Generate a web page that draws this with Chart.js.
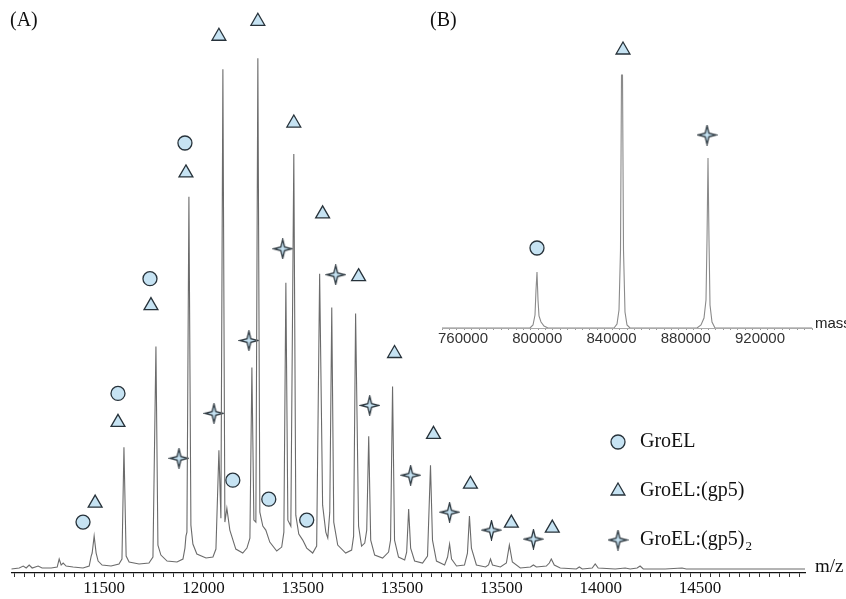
<!DOCTYPE html>
<html>
<head>
<meta charset="utf-8">
<script src="https://cdn.jsdelivr.net/npm/chart.js@4.4.1/dist/chart.umd.min.js"></script>
<style>
  html, body { margin: 0; padding: 0; background: #fff; }
  #wrap { position: relative; width: 846px; height: 599px; }
  #main { position: absolute; left: 0; top: 0; }
  #inset { position: absolute; left: 420px; top: 0; }
</style>
</head>
<body>
<div id="wrap">
  <canvas id="main" width="846" height="599"></canvas>
  <canvas id="inset" width="426" height="360"></canvas>
</div>
<script>
// ---------- Panel A: m/z spectrum ----------
const spectrumMz = [11033,11073,11093,11108,11123,11138,11168,11188,11234,11264,11274,11284,11294,11309,11344,11394,11425,11435,11440,11450,11460,11470,11490,11535,11575,11590,11600,11611,11626,11676,11726,11746,11761,11771,11786,11817,11867,11897,11907,11912,11917,11927,11937,11947,11967,12013,12048,12063,12078,12088,12098,12108,12118,12133,12163,12198,12219,12234,12244,12254,12264,12274,12284,12299,12314,12334,12369,12394,12405,12415,12425,12440,12455,12465,12480,12500,12520,12550,12570,12585,12600,12616,12626,12636,12646,12656,12676,12716,12746,12756,12766,12781,12796,12812,12822,12832,12842,12862,12902,12932,12942,12952,12962,12982,13013,13023,13033,13043,13063,13103,13128,13143,13153,13173,13214,13229,13239,13249,13274,13314,13329,13339,13349,13374,13420,13435,13445,13455,13495,13525,13540,13555,13595,13646,13661,13676,13726,13741,13751,13766,13796,13877,13892,13907,13957,13972,13987,14073,14123,14148,14183,14198,14214,14324,14409,14430,14600,14801,15028];
const spectrumIntensity = [4,5,7,5,8,5,7,5,5,6,14,8,10,7,6,5,7,17,20,37,20,12,8,7,9,14,126,17,11,9,10,16,227,28,18,12,11,14,25,37,41,377,48,29,19,15,16,24,123,55,505,51,65,43,24,20,25,35,206,53,51,516,61,47,43,31,22,26,41,291,53,47,420,58,39,33,25,20,27,300,68,41,35,61,266,51,28,20,23,37,260,47,27,30,43,137,33,18,15,21,33,187,33,16,13,21,64,25,12,10,17,108,33,12,8,16,29,14,7,8,20,57,25,8,6,8,14,8,6,10,28,11,5,6,8,6,7,10,14,8,5,4,6,4,5,9,5,4,5,4,5,7,4,4,5,4,4,4,4];

// marker positions (label symbols placed above the peaks)
const groelMz  = [11394,11570,11731,11907,12148,12329,12520];
const groelY   = [51,180,295,431,93,74,53];
const gp5Mz    = [11455,11570,11736,11912,12078,12274,12455,12600,12781,12962,13158,13344,13550,13756];
const gp5Y     = [70,151,268,401,538,553,451,360,297,220,139,89,50,45];
const gp5x2Mz  = [11877,12053,12229,12399,12666,12837,13043,13239,13450,13661];
const gp5x2Y   = [115,160,233,325,299,168,98,61,43,34];

const tickValues = [11500,12000,12500,13000,13500,14000,14500];
const tickLabels = ['11500','12000','13500','13500','13500','14000','14500'];

// ---------- Panel B: deconvoluted mass ----------
const massX = [748687,796093,797709,798786,799325,799864,800403,800941,802019,803635,805790,841344,842960,844037,844845,845384,845923,846462,847269,848347,849963,886056,888211,889827,890904,891443,891982,892520,893059,894136,895752,948006];
const massY = [0,0,3,13,38,56,28,12,6,2,0,0,4,18,78,253,253,78,16,3,0,0,3,10,28,88,170,88,23,6,0,0];
const insetGroelX = [799864], insetGroelY = [80];
const insetGp5X = [846193],  insetGp5Y = [278];
const insetGp5x2X = [891443], insetGp5x2Y = [193];
const insetTickValues = [760000,800000,840000,880000,920000];
const insetTickLabels = ['760000','800000','840000','880000','920000'];

const seriesNames = ['GroEL', 'GroEL:(gp5)', 'GroEL:(gp5)'];

const FILL = '#c6e3f3', EDGE = '#27323a';
const SERIF = '"Liberation Serif", "DejaVu Serif", serif';
const SANS = '"Liberation Sans", Arial, sans-serif';

function makeStar(size) {
  const c = document.createElement('canvas');
  c.width = c.height = size;
  const g = c.getContext('2d');
  const m = size / 2, r = size / 2 - 1.2, k = r * 0.2;
  g.beginPath();
  g.moveTo(m, m - r);
  g.lineTo(m + k, m - k);
  g.lineTo(m + r, m);
  g.lineTo(m + k, m + k);
  g.lineTo(m, m + r);
  g.lineTo(m - k, m + k);
  g.lineTo(m - r, m);
  g.lineTo(m - k, m - k);
  g.closePath();
  g.fillStyle = FILL; g.fill();
  g.lineWidth = 1.3; g.strokeStyle = EDGE; g.lineJoin = 'miter'; g.stroke();
  return c;
}
const starImg = makeStar(21);

function pts(xs, ys) { return xs.map((x, i) => ({ x: x, y: ys[i] })); }
function markerSet(xs, ys, style, radius) {
  return {
    type: 'scatter', data: pts(xs, ys), pointStyle: style, pointRadius: radius,
    pointBackgroundColor: FILL, pointBorderColor: EDGE, pointBorderWidth: 1.3,
    clip: false, showLine: false
  };
}
function labelFor(values, labels) {
  return (v) => {
    const i = values.findIndex((t) => Math.abs(t - v) < 1e-6);
    return i >= 0 ? labels[i] : '';
  };
}

const mainLabels = {
  id: 'mainLabels',
  afterDraw(chart) {
    const ctx = chart.ctx, a = chart.chartArea;
    ctx.save();
    ctx.fillStyle = '#111';
    ctx.textBaseline = 'middle';
    ctx.textAlign = 'left';
    ctx.font = '20px ' + SERIF;
    ctx.fillText('(A)', 10, 21);
    ctx.font = '19px ' + SERIF;
    ctx.fillText('m/z', a.right + 10, a.bottom - 6);
    // legend
    const lx = 618, ly = [442, 491, 540], tx = 640;
    const styles = ['circle', 'triangle', starImg], radii = [7, 8, 10];
    for (let i = 0; i < 3; i++) {
      ctx.fillStyle = FILL; ctx.strokeStyle = EDGE; ctx.lineWidth = 1.3;
      Chart.helpers.drawPoint(ctx, { pointStyle: styles[i], radius: radii[i], rotation: 0, borderWidth: 1.3 }, lx, ly[i]);
      ctx.fillStyle = '#111';
      ctx.font = '20px ' + SERIF;
      ctx.fillText(seriesNames[i], tx, ly[i]);
      if (i === 2) {
        const w = ctx.measureText(seriesNames[i]).width;
        ctx.font = '13px ' + SERIF;
        ctx.fillText('2', tx + w + 1, ly[i] + 7);
      }
    }
    ctx.restore();
  }
};

new Chart(document.getElementById('main'), {
  type: 'line',
  data: {
    datasets: [
      { data: pts(spectrumMz, spectrumIntensity), borderColor: '#6b6b6b', borderWidth: 1.1,
        pointRadius: 0, tension: 0, fill: false },
      markerSet(groelMz, groelY, 'circle', 7),
      markerSet(gp5Mz, gp5Y, 'triangle', 8),
      markerSet(gp5x2Mz, gp5x2Y, starImg, 10)
    ]
  },
  options: {
    responsive: false, animation: false,
    layout: { padding: { left: 10, right: 41, top: 10, bottom: 0 } },
    plugins: { legend: { display: false }, tooltip: { enabled: false } },
    scales: {
      x: {
        type: 'linear', min: 11033, max: 15028, bounds: 'ticks',
        afterFit: (s) => { s.height = 26; },
        border: { display: true, color: '#111', width: 1.3 },
        grid: { drawOnChartArea: false, drawTicks: true, tickLength: 4, color: '#333', lineWidth: 1 },
        ticks: {
          stepSize: 50, includeBounds: false, autoSkip: false, maxRotation: 0, padding: 1,
          color: '#111', font: { family: SERIF, size: 17 },
          callback: labelFor(tickValues, tickLabels)
        }
      },
      y: { display: false, min: 0, max: 563 }
    }
  },
  plugins: [mainLabels]
});

const insetLabels = {
  id: 'insetLabels',
  afterDraw(chart) {
    const ctx = chart.ctx, a = chart.chartArea, xs = chart.scales.x;
    ctx.save();
    ctx.fillStyle = '#111';
    ctx.textBaseline = 'middle';
    ctx.textAlign = 'left';
    ctx.font = '20px ' + SERIF;
    ctx.fillText('(B)', 10, 21);
    ctx.font = '15px ' + SANS;
    ctx.fillStyle = '#222';
    ctx.fillText('mass', a.right + 3, a.bottom - 4);
    // tick labels along the mass axis
    ctx.textAlign = 'center';
    ctx.fillStyle = '#333';
    insetTickValues.forEach((v, i) => {
      ctx.fillText(insetTickLabels[i], xs.getPixelForValue(v), a.bottom + 11);
    });
    ctx.restore();
  }
};

new Chart(document.getElementById('inset'), {
  type: 'line',
  data: {
    datasets: [
      { data: pts(massX, massY), borderColor: '#8a8a8a', borderWidth: 1.1,
        pointRadius: 0, tension: 0, fill: false },
      markerSet(insetGroelX, insetGroelY, 'circle', 7),
      markerSet(insetGp5X, insetGp5Y, 'triangle', 8),
      markerSet(insetGp5x2X, insetGp5x2Y, starImg, 10)
    ]
  },
  options: {
    responsive: false, animation: false,
    layout: { padding: { left: 22, right: 34, top: 30, bottom: 0 } },
    plugins: { legend: { display: false }, tooltip: { enabled: false } },
    scales: {
      x: {
        type: 'linear', min: 748687, max: 948006, bounds: 'ticks',
        afterFit: (s) => { s.height = 32; },
        border: { display: true, color: '#aaa', width: 1 },
        grid: { drawOnChartArea: false, drawTicks: true, tickLength: 2, color: '#999', lineWidth: 1 },
        ticks: {
          stepSize: 4000, includeBounds: false, autoSkip: false, maxRotation: 0, padding: 1,
          font: { family: SANS, size: 15 },
          callback: () => ''
        }
      },
      y: { display: false, min: 0, max: 298 }
    }
  },
  plugins: [insetLabels]
});
</script>
</body>
</html>
